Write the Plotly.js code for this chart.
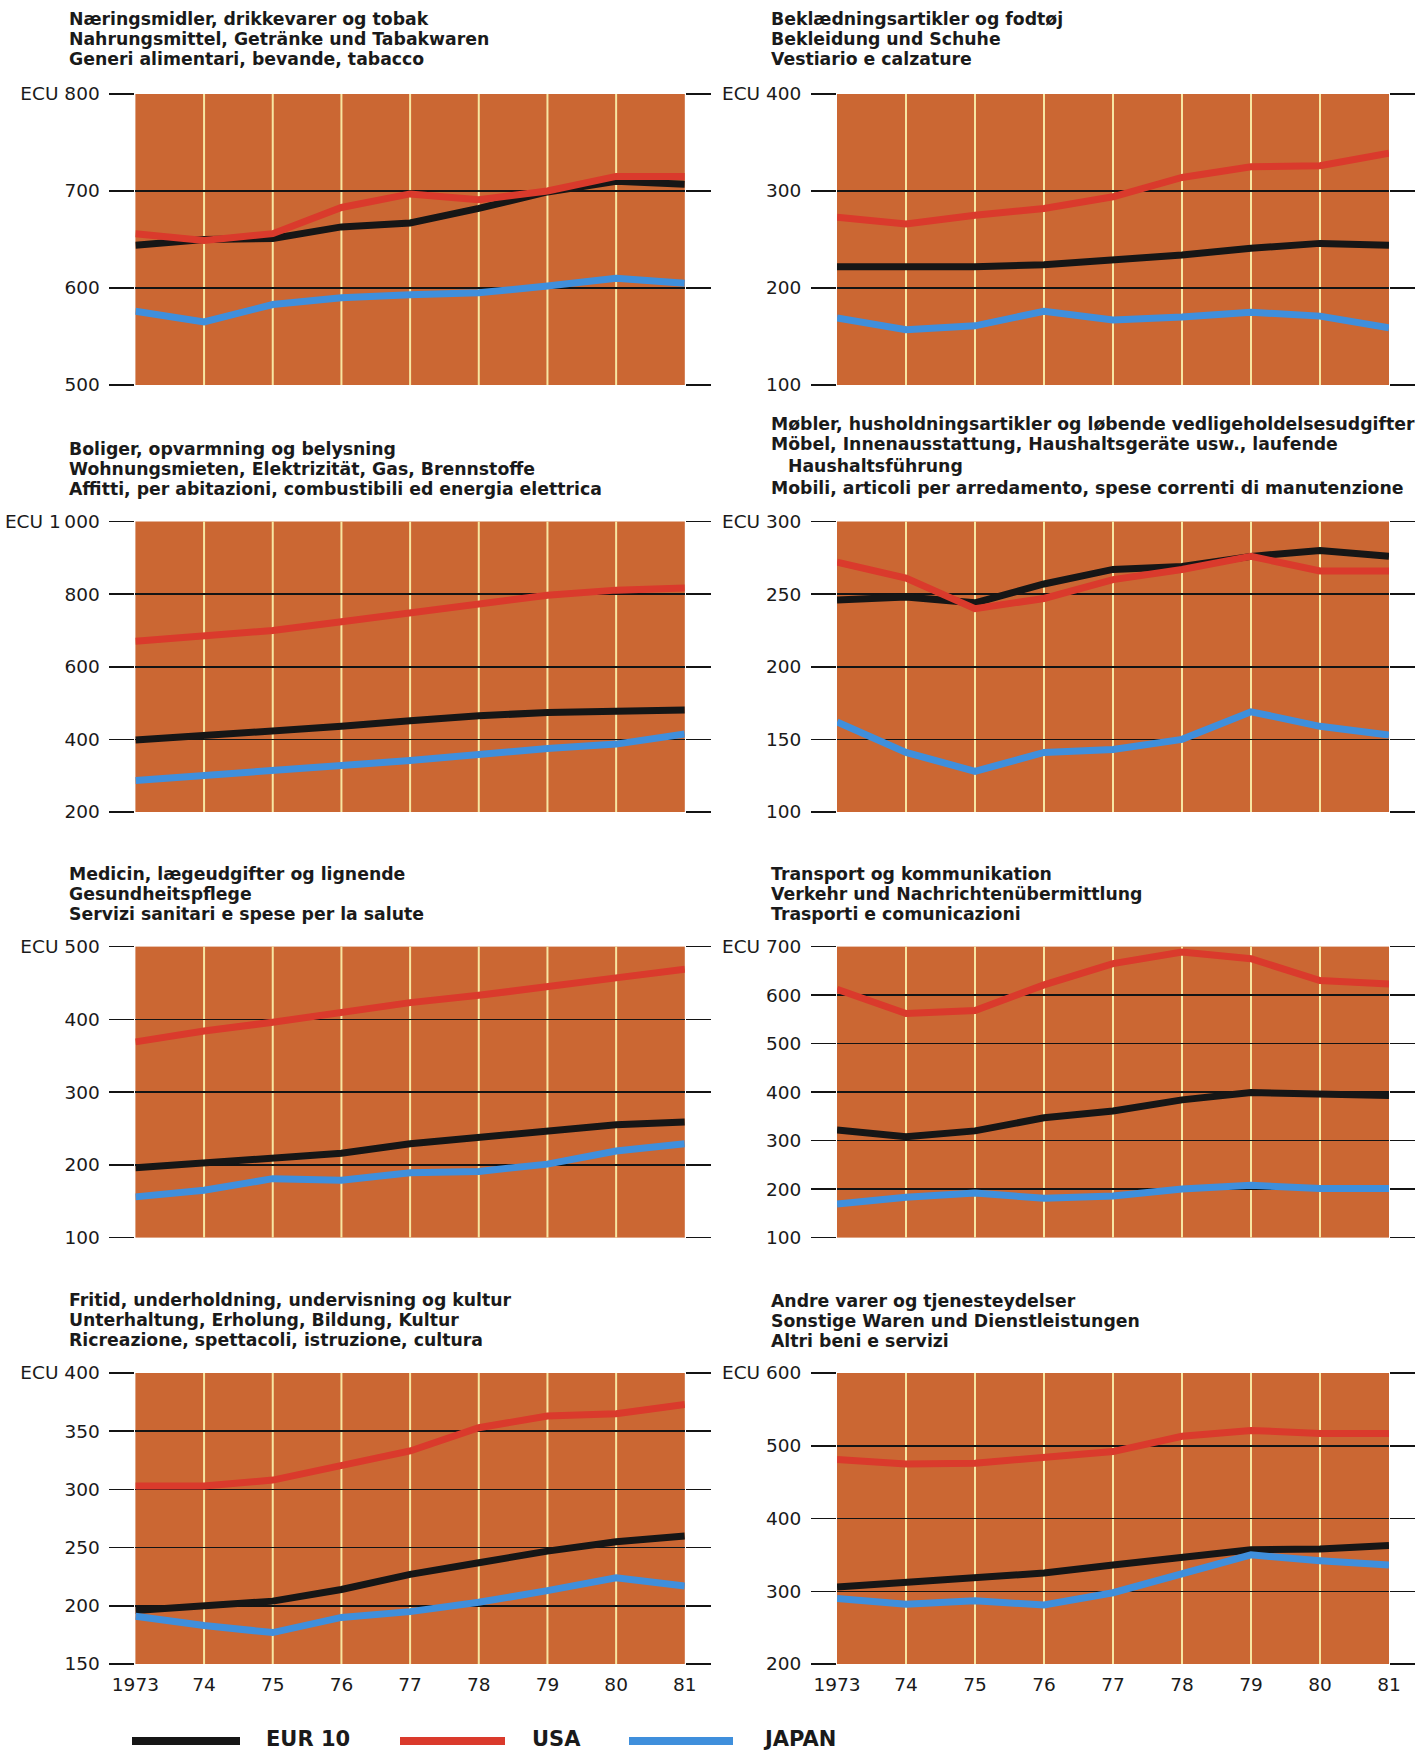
<!DOCTYPE html>
<html><head><meta charset="utf-8">
<script src="https://cdn.plot.ly/plotly-3.0.1.min.js"></script>
<style>html,body{margin:0;padding:0;background:#fff}</style>
</head><body>
<div id="chart" style="width:1421px;height:1755px"></div>
<script>
// ---------- DATA ----------
const years = [1973, 1974, 1975, 1976, 1977, 1978, 1979, 1980, 1981];
const yearLabels = ['1973', '74', '75', '76', '77', '78', '79', '80', '81'];
const seriesNames = ['EUR 10', 'USA', 'JAPAN'];

const foodTitle = ['Næringsmidler, drikkevarer og tobak', 'Nahrungsmittel, Getränke und Tabakwaren', 'Generi alimentari, bevande, tabacco'];
const foodTicks = [500, 600, 700, 800];
const foodTickText = ['500', '600', '700', 'ECU 800'];
const foodEUR = [644, 650, 651, 663, 667, 682, 699, 710, 707];
const foodUSA = [656, 649, 656, 683, 697, 691, 700, 715, 715];
const foodJAP = [576, 565, 583, 590, 593, 595, 602, 610, 605];

const clothTitle = ['Beklædningsartikler og fodtøj', 'Bekleidung und Schuhe', 'Vestiario e calzature'];
const clothTicks = [100, 200, 300, 400];
const clothTickText = ['100', '200', '300', 'ECU 400'];
const clothEUR = [222, 222, 222, 224, 229, 234, 241, 246, 244];
const clothUSA = [273, 266, 275, 282, 294, 314, 325, 326, 339];
const clothJAP = [169, 157, 161, 176, 167, 170, 175, 171, 159];

const houseTitle = ['Boliger, opvarmning og belysning', 'Wohnungsmieten, Elektrizität, Gas, Brennstoffe', 'Affitti, per abitazioni, combustibili ed energia elettrica'];
const houseTicks = [200, 400, 600, 800, 1000];
const houseTickText = ['200', '400', '600', '800', 'ECU 1\u2009000'];
const houseEUR = [398, 410, 423, 436, 451, 465, 474, 476, 481];
const houseUSA = [670, 683, 700, 724, 749, 776, 797, 811, 817];
const houseJAP = [287, 302, 314, 328, 342, 360, 375, 387, 415];

const furnTitle = ['Møbler, husholdningsartikler og løbende vedligeholdelsesudgifter', 'Möbel, Innenausstattung, Haushaltsgeräte usw., laufende', '  Haushaltsführung', 'Mobili, articoli per arredamento, spese correnti di manutenzione'];
const furnTicks = [100, 150, 200, 250, 300];
const furnTickText = ['100', '150', '200', '250', 'ECU 300'];
const furnEUR = [246, 248, 244, 257, 267, 269, 276, 280, 276];
const furnUSA = [272, 261, 240, 247, 260, 267, 276, 266, 266];
const furnJAP = [162, 141, 128, 141, 143, 150, 169, 159, 153];

const healthTitle = ['Medicin, lægeudgifter og lignende', 'Gesundheitspflege', 'Servizi sanitari e spese per la salute'];
const healthTicks = [100, 200, 300, 400, 500];
const healthTickText = ['100', '200', '300', '400', 'ECU 500'];
const healthEUR = [196, 203, 209, 216, 229, 237, 246, 255, 259];
const healthUSA = [369, 384, 396, 409, 423, 433, 446, 457, 469];
const healthJAP = [156, 165, 181, 179, 189, 191, 201, 219, 229];

const transTitle = ['Transport og kommunikation', 'Verkehr und Nachrichtenübermittlung', 'Trasporti e comunicazioni'];
const transTicks = [100, 200, 300, 400, 500, 600, 700];
const transTickText = ['100', '200', '300', '400', '500', '600', 'ECU 700'];
const transEUR = [322, 308, 320, 347, 361, 384, 399, 395, 393];
const transUSA = [612, 562, 568, 621, 665, 689, 675, 630, 623];
const transJAP = [169, 183, 192, 181, 186, 200, 208, 201, 201];

const leisTitle = ['Fritid, underholdning, undervisning og kultur', 'Unterhaltung, Erholung, Bildung, Kultur', 'Ricreazione, spettacoli, istruzione, cultura'];
const leisTicks = [150, 200, 250, 300, 350, 400];
const leisTickText = ['150', '200', '250', '300', '350', 'ECU 400'];
const leisEUR = [196, 200, 204, 214, 227, 237, 247, 255, 260];
const leisUSA = [303, 303, 308, 321, 333, 353, 363, 365, 373];
const leisJAP = [191, 183, 177, 190, 195, 203, 213, 224, 217];

const otherTitle = ['Andre varer og tjenesteydelser', 'Sonstige Waren und Dienstleistungen', 'Altri beni e servizi'];
const otherTicks = [200, 300, 400, 500, 600];
const otherTickText = ['200', '300', '400', '500', 'ECU 600'];
const otherEUR = [306, 312, 317, 325, 336, 347, 357, 358, 363];
const otherUSA = [481, 475, 476, 483, 492, 513, 521, 517, 517];
const otherJAP = [290, 282, 287, 281, 298, 325, 350, 342, 336];

// ---------- LAYOUT / STYLE ----------
const W = 1421, H = 1755;
const colPx = [[135.4, 684.8], [837, 1389]];
const rowPx = [[94, 385], [521.5, 812], [946.6, 1237.6], [1373, 1664]];
const titleX = [67, 769];
const titleLinesY = [
  [[19, 39, 59], [19, 39, 59]],
  [[449, 469, 489], [424, 444, 466, 488]],
  [[874, 894, 914], [874, 894, 914]],
  [[1300, 1320, 1340], [1301, 1321, 1341]]
];
const colors = ['#161616', '#da3a2c', '#3f8fdc'];
const bg = '#cb6733';
const yellow = '#f7e6a2';
const fontFamily = 'DejaVu Sans, Verdana, sans-serif';

const panels = [
  {title: foodTitle, ticks: foodTicks, tt: foodTickText, s: [foodEUR, foodUSA, foodJAP]},
  {title: clothTitle, ticks: clothTicks, tt: clothTickText, s: [clothEUR, clothUSA, clothJAP]},
  {title: houseTitle, ticks: houseTicks, tt: houseTickText, s: [houseEUR, houseUSA, houseJAP]},
  {title: furnTitle, ticks: furnTicks, tt: furnTickText, s: [furnEUR, furnUSA, furnJAP]},
  {title: healthTitle, ticks: healthTicks, tt: healthTickText, s: [healthEUR, healthUSA, healthJAP]},
  {title: transTitle, ticks: transTicks, tt: transTickText, s: [transEUR, transUSA, transJAP]},
  {title: leisTitle, ticks: leisTicks, tt: leisTickText, s: [leisEUR, leisUSA, leisJAP]},
  {title: otherTitle, ticks: otherTicks, tt: otherTickText, s: [otherEUR, otherUSA, otherJAP]}
];

const traces = [];
const layout = {
  width: W, height: H,
  margin: {l: 0, r: 0, t: 0, b: 0},
  paper_bgcolor: '#ffffff',
  plot_bgcolor: bg,
  showlegend: false,
  font: {family: fontFamily, color: '#1a1a1a'},
  annotations: [],
  shapes: []
};

panels.forEach((p, i) => {
  const r = Math.floor(i / 2), c = i % 2;
  const n = i + 1;
  const xa = 'xaxis' + (n === 1 ? '' : n), ya = 'yaxis' + (n === 1 ? '' : n);
  const xid = 'x' + (n === 1 ? '' : n), yid = 'y' + (n === 1 ? '' : n);
  layout[xa] = {
    domain: [colPx[c][0] / W, colPx[c][1] / W],
    range: [years[0], years[years.length - 1]],
    anchor: yid,
    showgrid: false, zeroline: false, showline: false,
    tickmode: 'array', tickvals: years, ticktext: yearLabels,
    showticklabels: r === 3,
    ticks: 'outside', ticklen: 4, tickcolor: 'rgba(0,0,0,0)',
    tickfont: {family: fontFamily, size: 18.5, color: '#1a1a1a'},
    fixedrange: true
  };
  layout[ya] = {
    domain: [1 - rowPx[r][1] / H, 1 - rowPx[r][0] / H],
    range: [p.ticks[0], p.ticks[p.ticks.length - 1]],
    anchor: xid,
    tickmode: 'array', tickvals: p.ticks, ticktext: p.tt,
    showgrid: true, gridcolor: '#141414', gridwidth: 1.5,
    zeroline: false, showline: false,
    ticks: 'outside', ticklen: 25, tickwidth: 1.5, tickcolor: '#141414',
    mirror: 'ticks', ticklabelstandoff: 6,
    tickfont: {family: fontFamily, size: 18.5, color: '#1a1a1a'},
    fixedrange: true
  };
  // yellow vertical year lines (interior years)
  years.slice(1, -1).forEach(yr => {
    layout.shapes.push({type: 'line', xref: xid, yref: yid + ' domain', x0: yr, x1: yr, y0: 0, y1: 1,
      line: {color: yellow, width: 2}, layer: 'below'});
  });
  // series
  p.s.forEach((vals, k) => {
    traces.push({x: years, y: vals, xaxis: xid, yaxis: yid, type: 'scatter', mode: 'lines',
      name: seriesNames[k], line: {color: colors[k], width: 7}, hoverinfo: 'skip'});
  });
  // titles
  p.title.forEach((t, j) => {
    const indent = t.startsWith('  ');
    layout.annotations.push({
      text: t.trim(), xref: 'paper', yref: 'paper',
      x: (titleX[c] + (indent ? 17 : 0)) / W, y: 1 - titleLinesY[r][c][j] / H,
      xanchor: 'left', yanchor: 'middle', showarrow: false,
      font: {family: fontFamily, size: 17.3, weight: 'bold', color: '#1a1a1a'}
    });
  });
});

// custom legend
const legendBars = [[132, 240], [400, 505], [629, 733]];
const legendTextX = [264, 530, 761];
const legendY = 1741;
seriesNames.forEach((nm, k) => {
  layout.shapes.push({type: 'line', xref: 'paper', yref: 'paper',
    x0: legendBars[k][0] / W, x1: legendBars[k][1] / W, y0: 1 - legendY / H, y1: 1 - legendY / H,
    line: {color: colors[k], width: 8}});
  layout.annotations.push({text: nm, xref: 'paper', yref: 'paper', x: legendTextX[k] / W, y: 1 - (legendY - 2) / H,
    xanchor: 'left', yanchor: 'middle', showarrow: false,
    font: {family: fontFamily, size: 21, weight: 'bold', color: '#1a1a1a'}});
});

Plotly.newPlot('chart', traces, layout, {displayModeBar: false, staticPlot: true});
</script>
</body></html>
